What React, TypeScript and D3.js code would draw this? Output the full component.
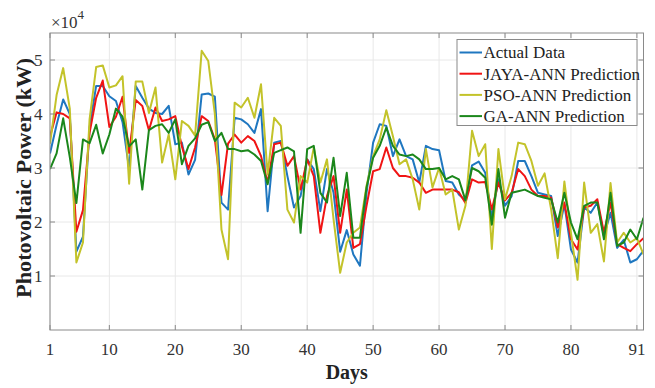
import React from 'react';
import * as d3 from 'd3';

const dayTicks = [1, 10, 20, 30, 40, 50, 60, 70, 80, 90];
const dayTickLabels = ['1', '10', '20', '30', '40', '50', '60', '70', '80', '91'];
const powerTicks = [1, 2, 3, 4, 5];
const seriesNames = ['Actual Data', 'JAYA-ANN Prediction', 'PSO-ANN Prediction', 'GA-ANN Prediction'];
const seriesColors = ['#1f77c0', '#f01414', '#c3c32a', '#1b871b'];

// values in units of 10^4 kW, days 1..91
const actual = [
  3.27, 3.8, 4.27, 4.0, 1.45, 1.73, 3.75, 4.52, 4.52, 4.33,
  4.24, 3.85, 2.98, 4.52, 4.3, 4.1, 4.02, 4.0, 4.15, 3.44,
  3.47, 2.88, 3.15, 4.36, 4.38, 4.32, 2.36, 2.23, 3.93, 3.9,
  3.81, 3.65, 4.09, 2.2, 3.47, 3.5, 2.85, 2.27, 2.48, 3.16,
  2.98, 2.2, 2.98, 2.54, 1.45, 1.85, 1.4, 1.19, 2.54, 3.47,
  3.81, 3.78, 3.22, 3.53, 3.22, 3.16, 2.73, 3.41, 3.35, 3.33,
  2.76, 2.73, 2.51, 2.4, 3.05, 3.12, 2.91, 2.08, 2.79, 2.3,
  2.48, 3.13, 3.13, 2.85, 2.54, 2.51, 2.48, 1.74, 2.33, 1.49,
  1.25, 2.27, 2.17, 2.36, 1.74, 2.17, 1.52, 1.67, 1.25, 1.31, 1.47,
];
const jaya = [
  3.58, 4.03, 4.0, 3.92, 1.82, 2.22, 3.65, 4.3, 4.62, 3.76,
  3.95, 4.32, 3.28, 4.26, 4.15, 3.7, 4.12, 3.87, 3.9, 3.96,
  3.4, 2.98, 3.38, 3.96, 3.87, 3.53, 2.5, 3.45, 3.62, 3.47,
  3.59, 3.5, 3.22, 2.73, 3.44, 3.47, 3.04, 3.22, 2.6, 3.16,
  2.85, 1.8, 2.48, 2.85, 1.8, 2.6, 1.52, 1.59, 2.3, 2.94,
  2.98, 3.38, 3.0, 2.85, 2.85, 2.82, 2.73, 2.54, 2.6, 2.6,
  2.6, 2.6, 2.55, 2.35, 2.79, 2.73, 2.74, 2.23, 2.73, 2.4,
  2.54, 2.98, 2.85, 2.6, 2.48, 2.48, 2.45, 1.9, 2.36, 1.68,
  1.49, 2.27, 2.3, 2.42, 1.8, 2.36, 1.59, 1.52, 1.46, 1.59, 1.7,
];
const pso = [
  3.45, 4.35, 4.85, 4.1, 1.25, 1.62, 3.9, 4.87, 4.9, 4.49,
  4.53, 4.7, 2.71, 4.6, 4.6, 4.02, 4.49, 3.1, 3.62, 2.79,
  3.87, 3.78, 3.6, 5.17, 4.98, 4.0, 1.86, 1.31, 4.21, 4.12,
  4.3, 3.93, 4.55, 2.88, 3.93, 3.78, 2.23, 1.99, 2.85, 2.73,
  3.38, 2.73, 3.16, 2.05, 1.06, 1.62, 1.8, 1.9, 2.67, 3.22,
  3.53, 4.07, 3.59, 3.07, 3.16, 2.79, 2.23, 3.35, 2.64, 3.0,
  2.51, 2.6, 1.86, 2.3, 3.69, 3.22, 3.44, 1.5, 3.35, 2.42,
  2.85, 3.47, 3.44, 3.13, 2.67, 2.9, 2.23, 1.33, 2.75, 1.8,
  0.93, 2.73, 1.8, 1.96, 1.27, 2.72, 1.62, 1.8, 1.62, 1.7, 1.4,
];
const ga = [
  2.98, 3.27, 3.92, 3.2, 2.35, 3.53, 3.46, 3.8, 3.27, 3.62,
  4.1, 3.95, 3.4, 3.53, 2.6, 3.7, 3.78, 3.81, 3.65, 3.9,
  3.07, 3.41, 3.55, 3.8, 3.85, 3.5, 3.65, 3.35, 3.35, 3.31,
  3.33, 3.25, 3.13, 2.7, 3.28, 3.33, 3.38, 3.31, 1.8, 3.35,
  3.41, 2.54, 2.36, 3.19, 2.11, 2.91, 1.71, 1.71, 2.64, 3.19,
  3.41, 3.75, 3.41, 3.25, 3.22, 3.25, 3.16, 2.98, 2.98, 3.0,
  2.79, 2.85, 2.79, 2.4, 3.0, 2.94, 2.82, 1.95, 2.98, 2.08,
  2.54, 2.57, 2.6, 2.54, 2.48, 2.45, 2.42, 1.99, 2.54, 1.99,
  1.68, 2.3, 2.36, 2.36, 1.68, 2.54, 1.56, 1.62, 1.86, 1.68, 2.08,
];

const FONT = '"Liberation Serif", "Times New Roman", serif';

export default function App() {
  const W = 655, H = 388;
  const left = 50, right = 643.5, top = 33, bottom = 330;
  const x = d3.scaleLinear().domain([1, 91]).range([left, right]);
  const y = d3.scaleLinear().domain([0, 5.5]).range([bottom, top]);
  const line = d3.line<number>().x((_, i) => x(i + 1)).y((d) => y(d));
  const series = [actual, jaya, pso, ga];
  const axisColor = '#8a8a8a';
  const gridColor = '#e8e8e8';
  const tickLen = 5;

  const legX = 457, legY = 39.5, legW = 180, legH = 86;
  const rowBase = [58.3, 79.5, 100.7, 121.9];

  return (
    <svg width={W} height={H} style={{ position: 'absolute', left: 0, top: 0, background: '#fff' }}>
      <defs>
        <clipPath id="plotClip">
          <rect x={left} y={top} width={right - left} height={bottom - top} />
        </clipPath>
      </defs>
      {/* grid */}
      {dayTicks.map((t) => (
        <line key={'gx' + t} x1={x(t)} x2={x(t)} y1={top} y2={bottom} stroke={gridColor} strokeWidth={1} />
      ))}
      {powerTicks.map((t) => (
        <line key={'gy' + t} x1={left} x2={right} y1={y(t)} y2={y(t)} stroke={gridColor} strokeWidth={1} />
      ))}
      {/* series */}
      <g clipPath="url(#plotClip)">
        {series.map((s, i) => (
          <path key={i} d={line(s) || ''} fill="none" stroke={seriesColors[i]} strokeWidth={2} strokeLinejoin="round" />
        ))}
      </g>
      {/* box */}
      <rect x={left} y={top} width={right - left} height={bottom - top} fill="none" stroke={axisColor} strokeWidth={1} />
      {/* ticks */}
      {dayTicks.map((t) => (
        <g key={'tx' + t}>
          <line x1={x(t)} x2={x(t)} y1={bottom} y2={bottom - tickLen} stroke={axisColor} />
          <line x1={x(t)} x2={x(t)} y1={top} y2={top + tickLen} stroke={axisColor} />
        </g>
      ))}
      {powerTicks.map((t) => (
        <g key={'ty' + t}>
          <line x1={left} x2={left + tickLen} y1={y(t)} y2={y(t)} stroke={axisColor} />
          <line x1={right} x2={right - tickLen} y1={y(t)} y2={y(t)} stroke={axisColor} />
        </g>
      ))}
      {/* tick labels */}
      {dayTicks.map((t, i) => (
        <text key={'lx' + t} x={x(t)} y={355} textAnchor="middle" fontFamily={FONT} fontSize={17} fill="#333">
          {dayTickLabels[i]}
        </text>
      ))}
      {powerTicks.map((t) => (
        <text key={'ly' + t} x={42.5} y={y(t) + 6} textAnchor="end" fontFamily={FONT} fontSize={17} fill="#333">
          {String(t)}
        </text>
      ))}
      {/* exponent */}
      <text x={51} y={28.3} fontFamily={FONT} fontSize={17} fill="#333">
        ×10
        <tspan dy={-9} fontSize={13}>4</tspan>
      </text>
      {/* axis titles */}
      <text x={(left + right) / 2} y={379} textAnchor="middle" fontFamily={FONT} fontSize={20} fontWeight="bold" fill="#222">
        Days
      </text>
      <text
        transform={`translate(31, 178) rotate(-90)`}
        textAnchor="middle"
        fontFamily={FONT}
        fontSize={21}
        fontWeight="bold"
        fill="#222"
        textLength={240}
        lengthAdjust="spacingAndGlyphs"
      >
        Photovoltaic Power (kW)
      </text>
      {/* legend */}
      <rect x={legX} y={legY} width={legW} height={legH} fill="#fff" stroke={axisColor} strokeWidth={1} />
      {seriesNames.map((n, i) => (
        <g key={n}>
          <line x1={459.5} x2={482} y1={rowBase[i] - 5.8} y2={rowBase[i] - 5.8} stroke={seriesColors[i]} strokeWidth={2} />
          <text x={483.5} y={rowBase[i]} fontFamily={FONT} fontSize={17} fill="#222">
            {n}
          </text>
        </g>
      ))}
    </svg>
  );
}
